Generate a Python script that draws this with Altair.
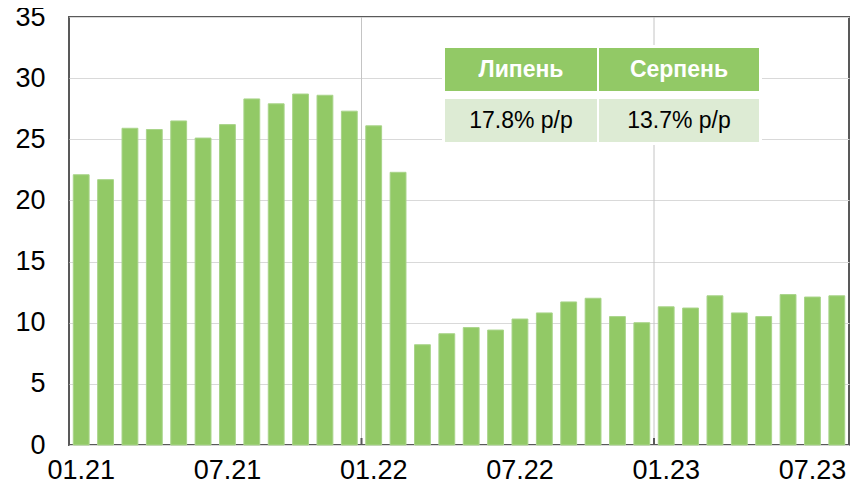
import altair as alt
import pandas as pd

# ---- data ----
months = [
    "01.21", "02.21", "03.21", "04.21", "05.21", "06.21", "07.21", "08.21",
    "09.21", "10.21", "11.21", "12.21", "01.22", "02.22", "03.22", "04.22",
    "05.22", "06.22", "07.22", "08.22", "09.22", "10.22", "11.22", "12.22",
    "01.23", "02.23", "03.23", "04.23", "05.23", "06.23", "07.23", "08.23",
]
values = [
    22.1, 21.7, 25.9, 25.8, 26.5, 25.1, 26.2, 28.3,
    27.9, 28.7, 28.6, 27.3, 26.1, 22.3, 8.2, 9.1,
    9.6, 9.4, 10.3, 10.8, 11.7, 12.0, 10.5, 10.0,
    11.3, 11.2, 12.2, 10.8, 10.5, 12.3, 12.1, 12.2,
]
tick_labels = ["01.21", "07.21", "01.22", "07.22", "01.23", "07.23"]
year_starts = ["01.22", "01.23"]
y_ticks = [0, 5, 10, 15, 20, 25, 30, 35]

table_headers = ["Липень", "Серпень"]
table_values = ["17.8% p/p", "13.7% p/p"]

W, H = 780, 428
GREEN = "#92C966"
LIGHT = "#DDEBD4"
FRAME = "#595959"
FONT = "Liberation Sans"

df = pd.DataFrame({"month": months, "value": values})
step = W / len(months)

xscale = alt.Scale(domain=months, paddingInner=0.35, paddingOuter=0.175)
yscale = alt.Scale(domain=[0, 35], nice=False)
xaxis = alt.Axis(values=tick_labels, labelAngle=0, labelAlign="center",
                 labelBaseline="top", ticks=False, tickSize=0,
                 domain=False, grid=False, labelFont=FONT, labelFontSize=27,
                 labelColor="#000000", labelPadding=12, title=None)

bars = alt.Chart(df).mark_bar(color=GREEN, stroke="#A9D48A", strokeWidth=1).encode(
    x=alt.X("month:O", scale=xscale, sort=months, title=None, axis=xaxis),
    y=alt.Y("value:Q", scale=yscale, title=None,
            axis=alt.Axis(values=y_ticks, ticks=False, tickSize=0, domain=False,
                          grid=True, gridColor="#D9D9D9", gridWidth=1,
                          labelFont=FONT, labelFontSize=27, labelColor="#000000",
                          labelPadding=24)),
)

ydf = pd.DataFrame({"month": year_starts})
vgrid = alt.Chart(ydf).mark_rule(color="#C4C4C4", strokeWidth=1, xOffset=-step / 2).encode(
    x=alt.X("month:O", scale=xscale, sort=months, title=None, axis=xaxis),
    y=alt.value(0),
    y2=alt.value(H),
)
vtick = alt.Chart(ydf).mark_rule(color=FRAME, strokeWidth=2, xOffset=-step / 2).encode(
    x=alt.X("month:O", scale=xscale, sort=months, title=None, axis=xaxis),
    y=alt.value(H - 7),
    y2=alt.value(H),
)

# ---- table annotation (placed in pixel space of the plot area) ----
one = pd.DataFrame({"a": [0]})
cell_x = [(376, 528), (530, 690)]

table_layers = [
    alt.Chart(one).mark_rect(color="white").encode(
        x=alt.value(373), x2=alt.value(693), y=alt.value(28), y2=alt.value(128)
    )
]
for (x1, x2), head, val in zip(cell_x, table_headers, table_values):
    xc = (x1 + x2) / 2
    table_layers += [
        alt.Chart(one).mark_rect(color=GREEN).encode(
            x=alt.value(x1), x2=alt.value(x2), y=alt.value(31), y2=alt.value(74)
        ),
        alt.Chart(one).mark_rect(color=LIGHT).encode(
            x=alt.value(x1), x2=alt.value(x2), y=alt.value(82), y2=alt.value(125)
        ),
        alt.Chart(one).mark_text(
            font=FONT, fontSize=23, fontWeight="bold", color="white",
            baseline="middle", align="center", text=head
        ).encode(x=alt.value(xc), y=alt.value(53)),
        alt.Chart(one).mark_text(
            font=FONT, fontSize=23, color="#000000",
            baseline="middle", align="center", text=val
        ).encode(x=alt.value(xc), y=alt.value(104)),
    ]

chart = alt.layer(
    bars, vgrid, vtick, *table_layers
).properties(
    width=W, height=H,
    autosize=alt.AutoSizeParams(type="none"),
    padding={"left": 61, "top": 9, "right": 2, "bottom": 42},
).configure_view(
    stroke=FRAME, strokeWidth=2
)

chart.save("out.html", embed_options={"renderer": "svg", "actions": False})
